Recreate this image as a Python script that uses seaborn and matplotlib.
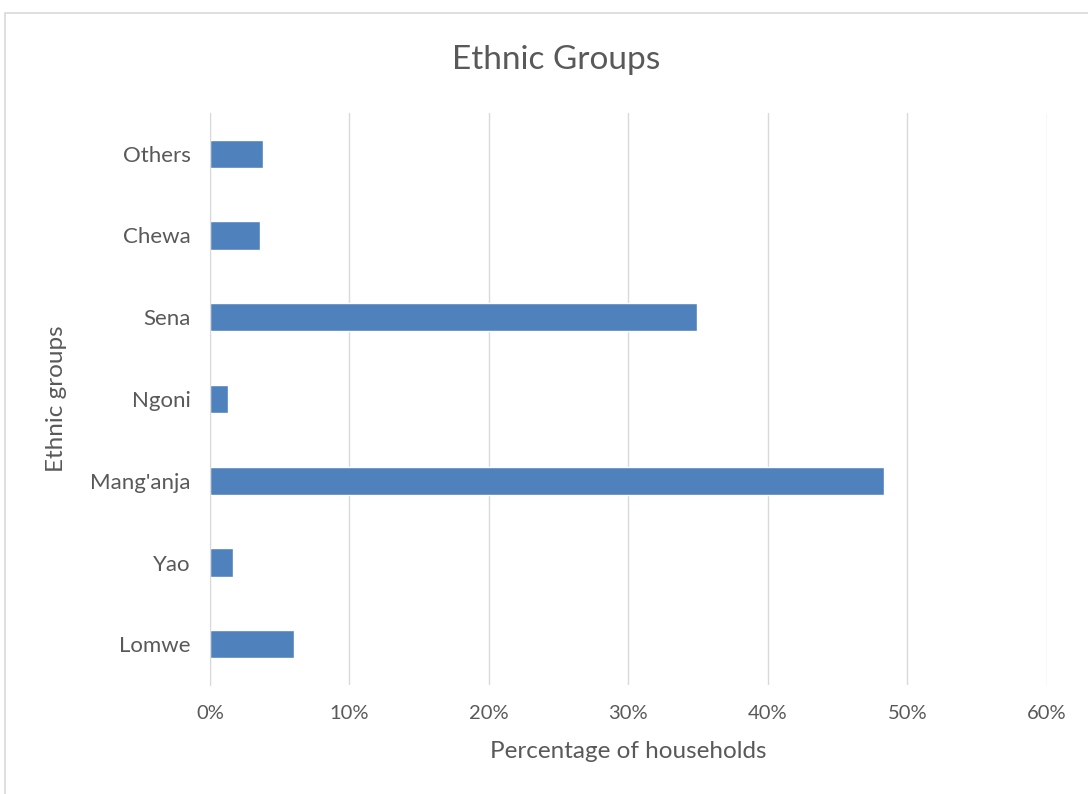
import matplotlib
matplotlib.use("Agg")
import matplotlib.pyplot as plt
import seaborn as sns
import pandas as pd
from matplotlib.ticker import FuncFormatter
from matplotlib.patches import Rectangle

# data (percent of households)
groups = ["Others", "Chewa", "Sena", "Ngoni", "Mang'anja", "Yao", "Lomwe"]
percent = [3.8, 3.6, 34.9, 1.3, 48.3, 1.65, 6.05]

df = pd.DataFrame({"group": groups, "pct": percent})

sns.set_style("white")
plt.rcParams['font.family'] = ['Lato', 'DejaVu Sans']
grey = "#595959"

fig = plt.figure(figsize=(10.88, 7.94), dpi=100)
ax = fig.add_axes([0.193, 0.137, 0.769, 0.721])

sns.barplot(data=df, x="pct", y="group", order=groups, color="#4F81BD",
            width=0.345, saturation=1, ax=ax, orient="h")

ax.set_xlim(0, 60)
ax.set_ylim(6.5, -0.5)
ax.set_xticks(range(0, 61, 10))
ax.xaxis.set_major_formatter(FuncFormatter(lambda v, p: f"{v:.0f}%"))
ax.grid(axis="x", color="#d9d9d9", linewidth=1)
ax.set_axisbelow(True)
for s in ["top", "right", "bottom"]:
    ax.spines[s].set_visible(False)
ax.spines["left"].set_color("#d9d9d9")
ax.tick_params(length=0, labelcolor=grey)
ax.tick_params(axis="x", pad=14, labelsize=14.5)
ax.tick_params(axis="y", pad=14, labelsize=16)

ax.set_xlabel("Percentage of households", fontsize=17.5, color=grey, labelpad=14)
ax.set_ylabel("Ethnic groups", fontsize=17.5, color=grey)
ax.yaxis.set_label_coords(-0.171, 0.5)
fig.text(0.511, 0.925, "Ethnic Groups", ha="center", va="center", fontsize=24, color=grey)

# outer chart frame
fig.patches.append(Rectangle((0.005, -0.01), 1.0, 0.994, transform=fig.transFigure,
                             fill=False, edgecolor="#d9d9d9", linewidth=1.2))

fig.savefig("out.png", dpi=100)
